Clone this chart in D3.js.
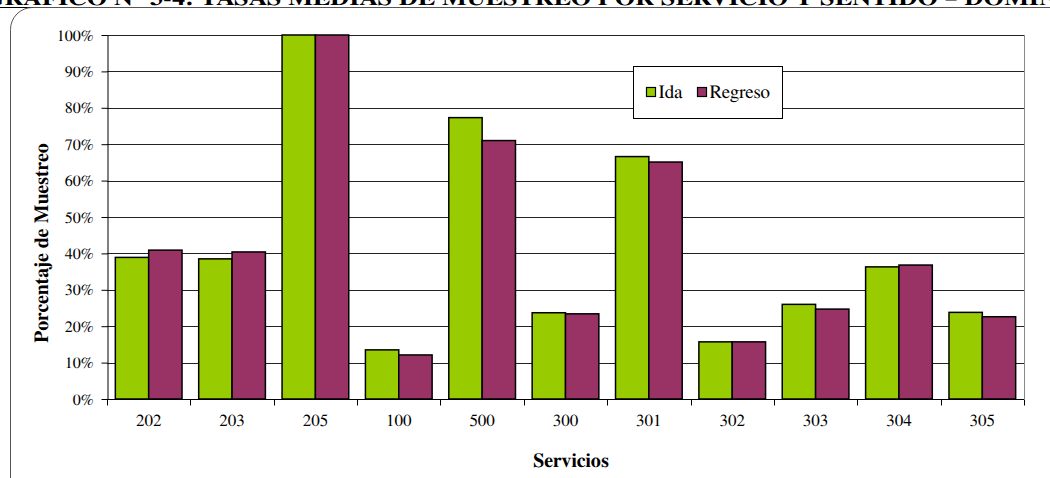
<!DOCTYPE html>
<html>
<head>
<meta charset="utf-8">
<script src="https://cdn.jsdelivr.net/npm/d3@7"></script>
<style>
  body { margin: 0; background: #fff; }
  svg { display: block; }
</style>
</head>
<body>
<div id="chart"></div>
<script>
const categories = ["202", "203", "205", "100", "500", "300", "301", "302", "303", "304", "305"];
const seriesNames = ["Ida", "Regreso"];
const idaValues = [38.9, 38.5, 100, 13.5, 77.3, 23.7, 66.6, 15.7, 26.0, 36.3, 23.8];
const regresoValues = [40.9, 40.4, 100, 12.1, 71.0, 23.4, 65.1, 15.7, 24.7, 36.8, 22.6];
const yTicks = [0, 10, 20, 30, 40, 50, 60, 70, 80, 90, 100];
const colors = { Ida: "#99CC00", Regreso: "#993366" };

const width = 1050;
const height = 478;
const margin = { top: 35, right: 26, bottom: 79, left: 107 };
const FONT = "FreeSerif, 'Liberation Serif', serif";

const svg = d3.select("#chart")
  .append("svg")
  .attr("width", width)
  .attr("height", height)
  .style("text-rendering", "geometricPrecision");

// title, cut off by the top edge like in the scanned page
svg.append("text")
  .attr("x", -16)
  .attr("y", 5)
  .attr("font-family", FONT)
  .attr("font-size", "22px")
  .attr("font-weight", "bold")
  .attr("textLength", 1115)
  .attr("lengthAdjust", "spacingAndGlyphs")
  .text("GRÁFICO  N°  3-4:  TASAS  MEDIAS  DE  MUESTREO  POR  SERVICIO  Y  SENTIDO  –  DOMINGO");

svg.append("line")
  .attr("x1", 0).attr("x2", width)
  .attr("y1", 7.5).attr("y2", 7.5)
  .attr("stroke", "#000");

// chart frame
svg.append("rect")
  .attr("x", 10.5).attr("y", 7.5)
  .attr("width", 1100).attr("height", 600)
  .attr("rx", 22).attr("ry", 22)
  .attr("fill", "none")
  .attr("stroke", "#555");

const x0 = d3.scaleBand()
  .domain(categories)
  .range([margin.left, width - margin.right])
  .padding(0);

const x1 = d3.scaleBand()
  .domain(seriesNames)
  .range([0, x0.bandwidth()])
  .paddingInner(0)
  .paddingOuter(0.25);

const y = d3.scaleLinear()
  .domain([0, 100])
  .range([height - margin.bottom, margin.top]);

const data = categories.map((c, i) => ({ cat: c, Ida: idaValues[i], Regreso: regresoValues[i] }));

// gridlines
svg.append("g")
  .selectAll("line")
  .data(yTicks.filter(d => d > 0))
  .join("line")
  .attr("x1", margin.left)
  .attr("x2", width - margin.right)
  .attr("y1", d => Math.round(y(d)) + 0.5)
  .attr("y2", d => Math.round(y(d)) + 0.5)
  .attr("stroke", "#222")
  .attr("stroke-width", 1);

// right border of plot area
svg.append("line")
  .attr("x1", width - margin.right + 0.5).attr("x2", width - margin.right + 0.5)
  .attr("y1", margin.top).attr("y2", height - margin.bottom)
  .attr("stroke", "#888");

// bars
const groups = svg.append("g")
  .selectAll("g")
  .data(data)
  .join("g")
  .attr("transform", d => `translate(${x0(d.cat)},0)`);

groups.selectAll("rect")
  .data(d => seriesNames.map(s => ({ key: s, value: d[s] })))
  .join("rect")
  .attr("x", d => x1(d.key))
  .attr("y", d => y(d.value))
  .attr("width", x1.bandwidth())
  .attr("height", d => y(0) - y(d.value))
  .attr("fill", d => colors[d.key])
  .attr("stroke", "#000")
  .attr("stroke-width", 1.5);

// y axis
const yAxis = svg.append("g")
  .attr("transform", `translate(${margin.left + 0.5},0)`)
  .call(d3.axisLeft(y).tickValues(yTicks).tickFormat(d => d + "%").tickSize(6).tickSizeOuter(0));
yAxis.attr("font-family", FONT).attr("font-size", 16);
yAxis.selectAll("text").attr("fill", "#000").attr("dx", "-5px");
yAxis.select(".domain").attr("stroke", "#000");
yAxis.selectAll(".tick line").attr("stroke", "#000");

// x axis with ticks at category boundaries
const xAxisG = svg.append("g")
  .attr("transform", `translate(0,${height - margin.bottom + 0.5})`);
xAxisG.append("line")
  .attr("x1", margin.left).attr("x2", width - margin.right)
  .attr("stroke", "#000");
const edges = categories.map(c => x0(c)).concat([width - margin.right]);
xAxisG.selectAll("line.tk")
  .data(edges)
  .join("line")
  .attr("class", "tk")
  .attr("x1", d => Math.round(d) + 0.5)
  .attr("x2", d => Math.round(d) + 0.5)
  .attr("y1", 0).attr("y2", 6)
  .attr("stroke", "#000");
xAxisG.selectAll("text")
  .data(categories)
  .join("text")
  .attr("x", d => x0(d) + x0.bandwidth() / 2)
  .attr("y", 26)
  .attr("text-anchor", "middle")
  .attr("font-family", FONT)
  .attr("font-size", "17px")
  .text(d => d);

// axis titles
svg.append("text")
  .attr("x", 571)
  .attr("y", 467)
  .attr("text-anchor", "middle")
  .attr("font-family", FONT)
  .attr("font-size", "20px")
  .attr("font-weight", "bold")
  .text("Servicios");

svg.append("text")
  .attr("transform", "translate(48,243) rotate(-90)")
  .attr("text-anchor", "middle")
  .attr("font-family", FONT)
  .attr("font-size", "20px")
  .attr("font-weight", "bold")
  .text("Porcentaje de Muestreo");

// legend
const legend = svg.append("g").attr("transform", "translate(633.5,66.5)");
legend.append("rect")
  .attr("width", 149).attr("height", 52)
  .attr("fill", "#fff").attr("stroke", "#000");
const legendX = { Ida: 13, Regreso: 64 };
seriesNames.forEach(s => {
  legend.append("rect")
    .attr("x", legendX[s]).attr("y", 21)
    .attr("width", 9).attr("height", 9)
    .attr("fill", colors[s]).attr("stroke", "#000").attr("stroke-width", 1.2);
  legend.append("text")
    .attr("x", legendX[s] + 12).attr("y", 31)
    .attr("font-family", FONT)
    .attr("font-size", "19px")
    .text(s);
});
</script>
</body>
</html>
